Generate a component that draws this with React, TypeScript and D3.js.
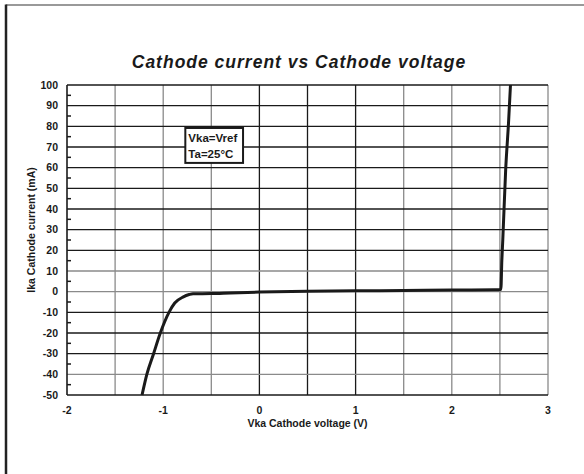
import * as d3 from "d3";
import { useEffect, useRef } from "react";

// Ika vs Vka curve
const voltage = [-1.22, -1.17, -1.1, -1.03, -0.94, -0.88, -0.79, -0.73, -0.69, -0.5, -0.3, 0, 0.5, 1, 1.5, 2, 2.45, 2.51, 2.52, 2.53, 2.56, 2.59, 2.61];
const current = [-50, -40, -30, -20, -10, -5.5, -2.5, -1.4, -1.0, -0.9, -0.6, -0.2, 0.2, 0.4, 0.6, 0.8, 0.9, 1.0, 15, 25, 59, 82, 100];
const xTicks = [-2, -1, 0, 1, 2, 3];
const yTicks = [100, 90, 80, 70, 60, 50, 40, 30, 20, 10, 0, -10, -20, -30, -40, -50];
const legendLines = ["Vka=Vref", "Ta=25\u00b0C"];

function drawChart(svgEl: SVGSVGElement) {
    const width = 584;
    const height = 474;
    const left = 67, right = 548, top = 85, bottom = 395;
    const font = "'Liberation Sans', Arial, sans-serif";

    const svg = d3.select(svgEl);
    svg.selectAll("*").remove();

    const x = d3.scaleLinear().domain([-2, 3]).range([left, right]);
    const y = d3.scaleLinear().domain([-50, 100]).range([bottom, top]);

    // outer frame (only top and left edges visible)
    svg.append("line").attr("x1", 6).attr("x2", width + 10).attr("y1", 5).attr("y2", 5)
        .attr("stroke", "#777").attr("stroke-width", 1.5);
    svg.append("line").attr("x1", 6).attr("x2", 6).attr("y1", 4.5).attr("y2", height + 10)
        .attr("stroke", "#222").attr("stroke-width", 2.5);

    // grid
    const darkV = [0, 0.5, 1];
    const grayH = [10, 0, -40];
    const vLines = d3.range(-1.5, 3.01, 0.5);
    svg.append("g").selectAll("line").data(vLines).enter().append("line")
        .attr("x1", d => x(d)).attr("x2", d => x(d))
        .attr("y1", top).attr("y2", bottom)
        .attr("stroke", d => darkV.some(v => Math.abs(v - d) < 1e-6) ? "#1a1a1a" : "#8a8a8a")
        .attr("stroke-width", 1.3);
    svg.append("g").selectAll("line").data(d3.range(-40, 101, 10)).enter().append("line")
        .attr("x1", left).attr("x2", right)
        .attr("y1", d => y(d)).attr("y2", d => y(d))
        .attr("stroke", d => grayH.includes(d) ? "#8a8a8a" : "#1a1a1a")
        .attr("stroke-width", 1.3);

    // axes lines
    svg.append("line").attr("x1", left).attr("x2", right).attr("y1", bottom).attr("y2", bottom)
        .attr("stroke", "#1a1a1a").attr("stroke-width", 1.6);
    svg.append("line").attr("x1", left).attr("x2", left).attr("y1", top).attr("y2", bottom)
        .attr("stroke", "#1a1a1a").attr("stroke-width", 1.6);

    // minor ticks on y axis
    svg.append("g").selectAll("line").data(d3.range(-45, 100, 10)).enter().append("line")
        .attr("x1", left).attr("x2", left + 4)
        .attr("y1", d => y(d)).attr("y2", d => y(d))
        .attr("stroke", "#1a1a1a").attr("stroke-width", 1.5);

    // tick labels
    svg.append("g").selectAll("text").data(yTicks).enter().append("text")
        .attr("x", left - 9).attr("y", d => y(d) + 3.5)
        .attr("text-anchor", "end")
        .style("font-family", font).style("font-weight", "bold").style("font-size", "10.5px")
        .attr("fill", "#1a1a1a")
        .text(d => d);
    svg.append("g").selectAll("text").data(xTicks).enter().append("text")
        .attr("x", d => x(d)).attr("y", bottom + 19)
        .attr("text-anchor", "middle")
        .style("font-family", font).style("font-weight", "bold").style("font-size", "10.5px")
        .attr("fill", "#1a1a1a")
        .text(d => d);

    // axis titles
    svg.append("text")
        .attr("x", (left + right) / 2).attr("y", bottom + 32)
        .attr("text-anchor", "middle")
        .style("font-family", font).style("font-weight", "bold").style("font-size", "10.5px")
        .attr("fill", "#1a1a1a")
        .text("Vka Cathode voltage (V)");
    svg.append("text")
        .attr("transform", "translate(35," + 230 + ") rotate(-90)")
        .attr("text-anchor", "middle")
        .style("font-family", font).style("font-weight", "bold").style("font-size", "10.5px")
        .attr("fill", "#1a1a1a")
        .text("Ika Cathode current (mA)");

    // title
    svg.append("text")
        .attr("x", 299).attr("y", 68)
        .attr("text-anchor", "middle")
        .style("font-family", font).style("font-weight", "bold").style("font-style", "italic")
        .style("font-size", "17.5px").style("letter-spacing", "1px")
        .attr("fill", "#1a1a1a")
        .text("Cathode current vs Cathode voltage");

    // legend box
    const bx0 = x(-0.77), bx1 = x(-0.17), by0 = y(79.2), by1 = y(62.3);
    svg.append("rect")
        .attr("x", bx0).attr("y", by0).attr("width", bx1 - bx0).attr("height", by1 - by0)
        .attr("fill", "white").attr("stroke", "#1a1a1a").attr("stroke-width", 2);
    svg.append("g").selectAll("text").data(legendLines).enter().append("text")
        .attr("x", bx0 + 3).attr("y", (d, i) => by0 + 14 + i * 16)
        .style("font-family", font).style("font-weight", "bold").style("font-size", "11.5px")
        .attr("fill", "#1a1a1a")
        .text(d => d);

    // curve
    const pts = voltage.map((v, i) => [v, current[i]] as [number, number]);
    const line = d3.line<[number, number]>()
        .x(d => x(d[0])).y(d => y(d[1]))
        .curve(d3.curveMonotoneX);
    svg.append("path")
        .attr("d", line(pts))
        .attr("fill", "none").attr("stroke", "#1a1a1a").attr("stroke-width", 3)
        .attr("stroke-linejoin", "round");
}

export default function App() {
    const svgRef = useRef<SVGSVGElement>(null);
    useEffect(() => {
        if (svgRef.current) drawChart(svgRef.current);
    }, []);
    return (
        <svg ref={svgRef} width={584} height={474}
            style={{ position: "absolute", left: 0, top: 0, background: "white" }} />
    );
}
